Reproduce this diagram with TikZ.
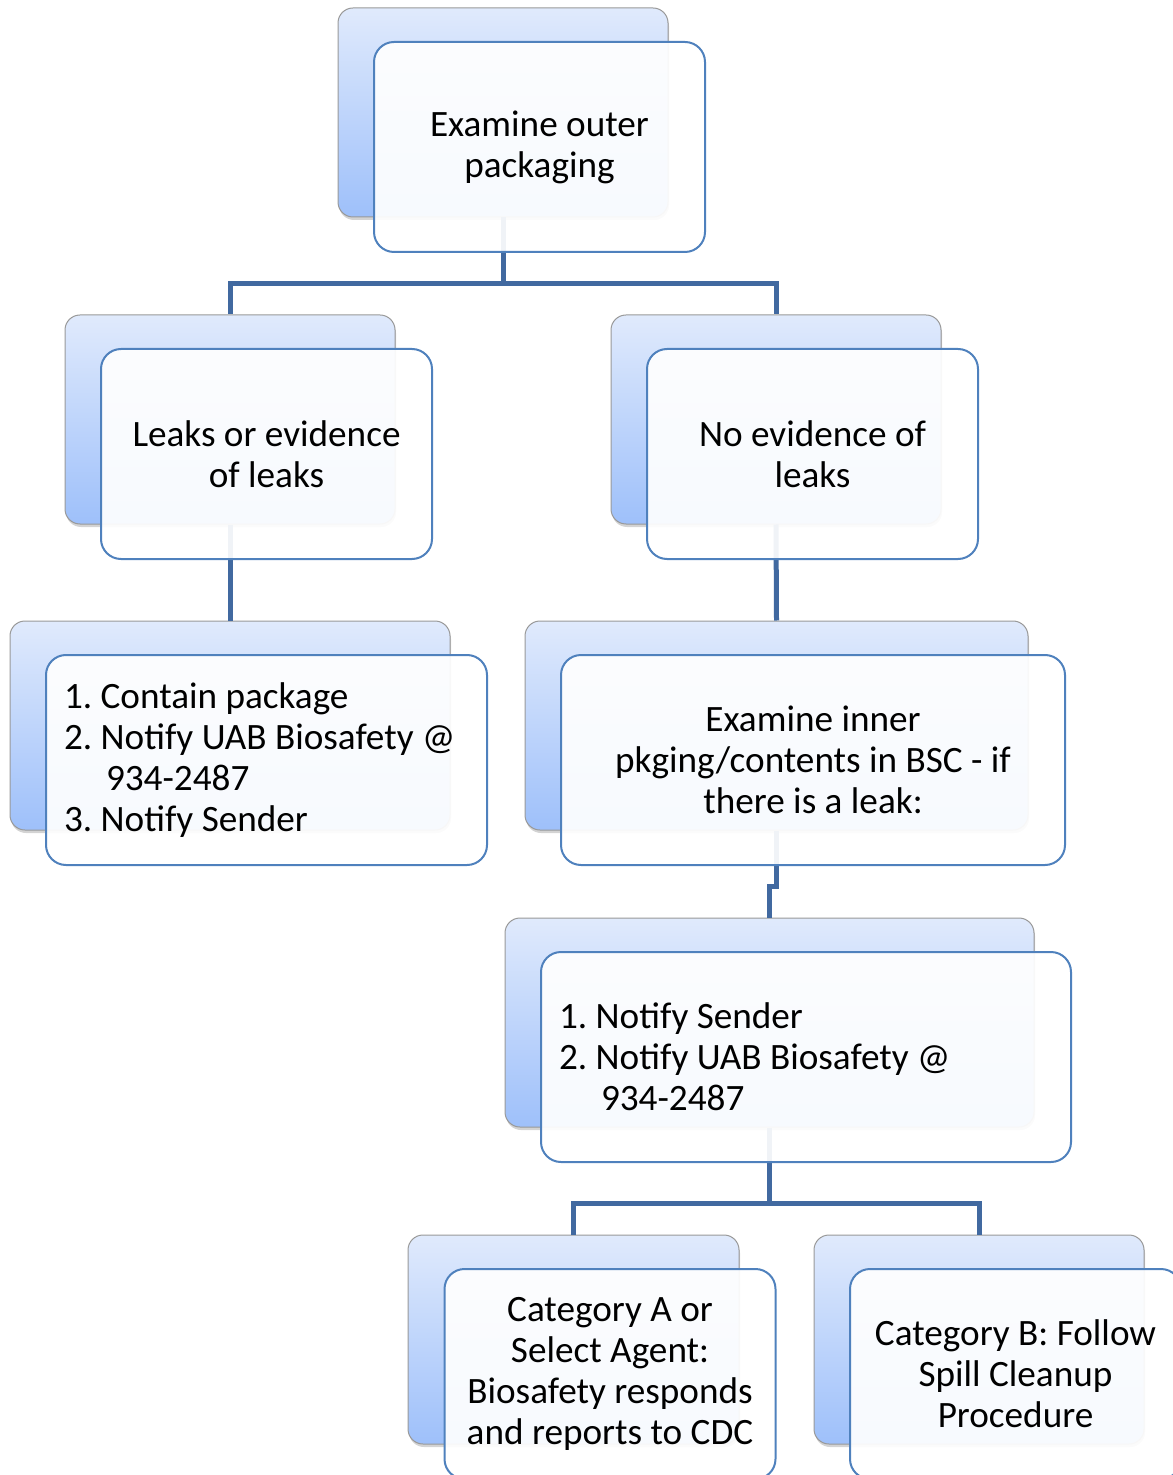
\documentclass[tikz,border=0pt]{standalone}
\usepackage{fontspec}
\setmainfont{Carlito}
\usetikzlibrary{shadows}
\definecolor{linkblue}{RGB}{65,105,160}
\definecolor{frameblue}{RGB}{79,129,189}
\definecolor{shadetop}{RGB}{224,234,252}
\definecolor{shadebot}{RGB}{158,192,250}
\tikzset{
  back/.style={rectangle, rounded corners=7.5pt, draw=gray!80, line width=0.5pt,
    top color=shadetop, bottom color=shadebot, minimum height=104.5pt, inner sep=0pt,
    drop shadow={shadow xshift=0.5pt, shadow yshift=-1.5pt, opacity=0.35}},
  front/.style={rectangle, rounded corners=10pt, draw=frameblue, line width=1pt,
    fill=white, fill opacity=0.92, text opacity=1, minimum height=105pt, inner sep=0pt,
    align=center, font=\fontsize{18.6}{20.5}\selectfont\frenchspacing},
  listbox/.style={front, align=flush left, inner xsep=9pt},
  link/.style={draw=linkblue, line width=2.5pt}
}
\begin{document}
\begin{tikzpicture}[x=0.5pt, y=-0.5pt]
  \useasboundingbox (0,0) rectangle (1172,1475);
  % back boxes
  \node[back, minimum width=165pt] (b1) at (503,112.5) {};
  \node[back, minimum width=165pt] (b2) at (230,419.5) {};
  \node[back, minimum width=165pt] (b3) at (776,419.5) {};
  \node[back, minimum width=220pt] (b4) at (230,725.5) {};
  \node[back, minimum width=251.5pt] (b5) at (776.5,725.5) {};
  \node[back, minimum width=264.5pt] (b6) at (769.5,1022.5) {};
  \node[back, minimum width=165.5pt] (b7) at (573.5,1339.5) {};
  \node[back, minimum width=165pt] (b8) at (979,1339.5) {};
  % connectors
  \draw[link] (b1.south) -- ++(0,66) -| (b2.north);
  \draw[link] (b1.south) ++(0,66) -| (b3.north);
  \draw[link] (b2.south) -- (b4.north);
  \draw[link] (b3.south) -- (b5.north);
  \draw[link] (b5.south) -- ++(0,56) -| (b6.north);
  \draw[link] (b6.south) -- ++(0,76) -| (b7.north);
  \draw[link] (b6.south) ++(0,76) -| (b8.north);
  % front boxes
  \node[front, minimum width=165.5pt] (f1) at ([shift={(36.5,34.5)}]b1.center)
    {Examine outer\\packaging};
  \node[front, minimum width=165.5pt] (f2) at ([shift={(36.5,34.5)}]b2.center)
    {Leaks or evidence\\of leaks};
  \node[front, minimum width=165.5pt] (f3) at ([shift={(36.5,34.5)}]b3.center)
    {No evidence of\\leaks};
  \node[listbox, text width=202.5pt] (f4) at ([shift={(36.5,34.5)}]b4.center)
    {1. Contain package\\2. Notify UAB Biosafety @\\\hspace*{21pt}934-2487\\3. Notify Sender};
  \node[front, minimum width=252pt] (f5) at ([shift={(36.5,34.5)}]b5.center)
    {Examine inner\\pkging/contents in BSC - if\\there is a leak:};
  \node[listbox, text width=247pt] (f6) at ([shift={(36.5,34.5)}]b6.center)
    {1. Notify Sender\\2. Notify UAB Biosafety @\\\hspace*{21pt}934-2487};
  \node[front, minimum width=165.5pt] (f7) at ([shift={(36.5,34.5)}]b7.center)
    {Category A or\\Select Agent:\\Biosafety responds\\and reports to CDC};
  \node[front, minimum width=165.5pt] (f8) at ([shift={(36.5,34.5)}]b8.center)
    {Category B: Follow\\Spill Cleanup\\Procedure};
\end{tikzpicture}
\end{document}
